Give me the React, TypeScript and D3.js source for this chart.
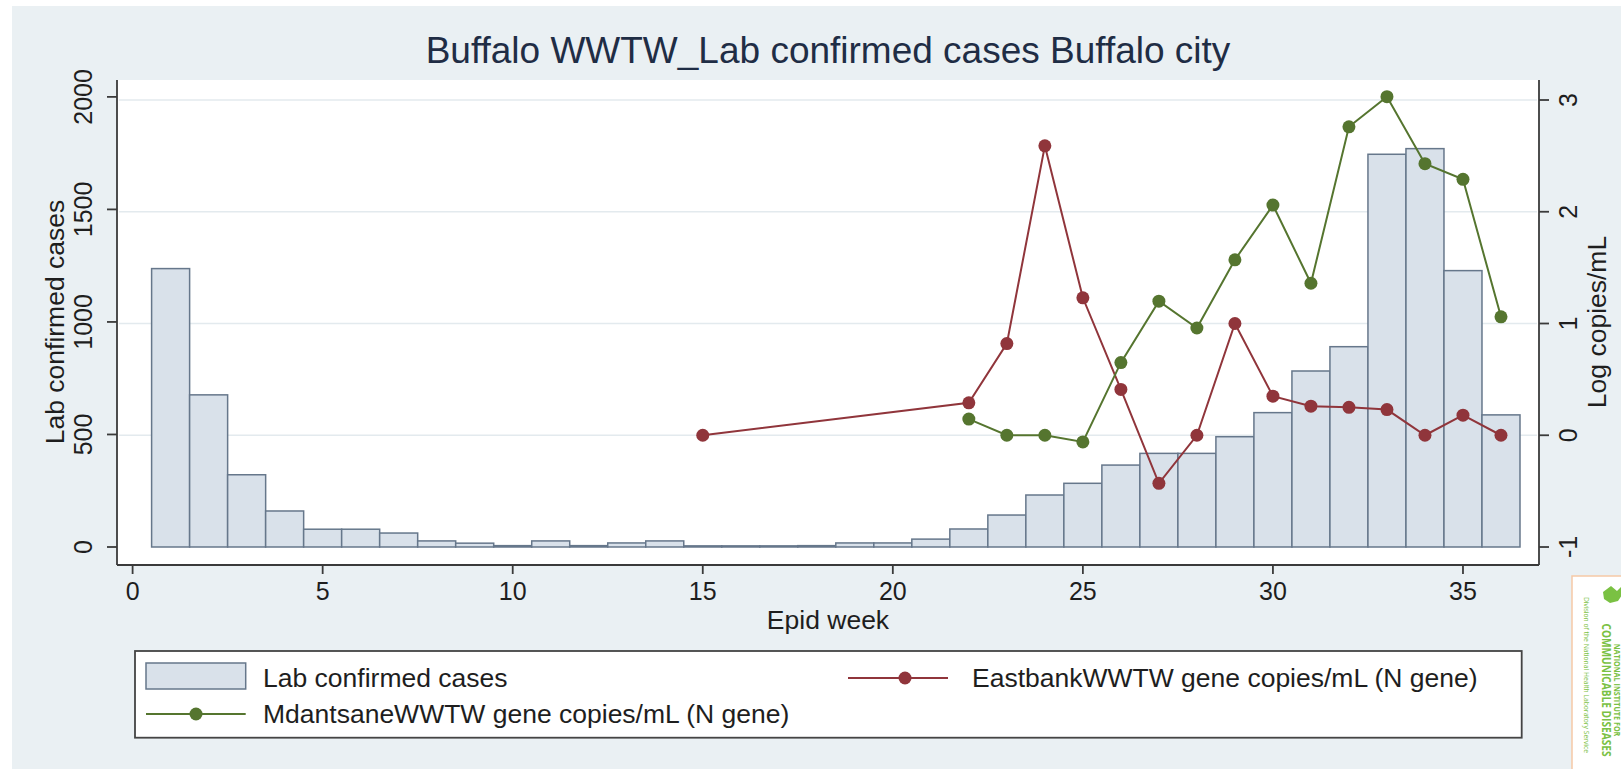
import React, { useEffect } from "react";
import * as d3 from "d3";

const weeks: number[] = [1,2,3,4,5,6,7,8,9,10,11,12,13,14,15,16,17,18,19,20,21,22,23,24,25,26,27,28,29,30,31,32,33,34,35,36];
const labCases: number[] = [1237,676,321,160,79,79,62,27,17,6,27,6,18,27,5,5,5,6,18,18,35,80,142,231,283,364,416,416,490,597,782,890,1745,1770,1228,587];

const eastbankWeeks: number[] = [15,22,23,24,25,26,27,28,29,30,31,32,33,34,35,36];
const eastbankValues: number[] = [0,0.29,0.82,2.59,1.23,0.41,-0.43,0.0,1.0,0.35,0.26,0.25,0.23,0.0,0.18,0.0];

const mdantsaneWeeks: number[] = [22,23,24,25,26,27,28,29,30,31,32,33,34,35,36];
const mdantsaneValues: number[] = [0.145,0,0,-0.06,0.65,1.2,0.96,1.57,2.06,1.36,2.76,3.03,2.43,2.29,1.06];

const xTicks: number[] = [0,5,10,15,20,25,30,35];
const leftTicks: number[] = [0,500,1000,1500,2000];
const rightTicks: number[] = [-1,0,1,2,3];

const FONT = "'Liberation Sans', Arial, Helvetica, sans-serif";
const BAR_FILL = "#d9e1ea";
const BAR_STROKE = "#66778b";
const RED = "#90353b";
const GREEN = "#55752f";
const AXIS = "#3a3a3a";
const GRID = "#e3eaee";
const TXT = "#1e1e1e";

export default function App() {
  useEffect(() => {
    document.body.style.margin = "0";
  }, []);

  const L = 117, R = 1539, T = 80, B = 565;
  const x = d3.scaleLinear().domain([-0.4105, 37.0]).range([L, R]);
  const yL = d3.scaleLinear().domain([-80, 2075]).range([B, T]);
  const yR = d3.scaleLinear().domain([-1.161, 3.179]).range([B, T]);

  const redLine = d3.line<number>().x((_, i) => x(eastbankWeeks[i])).y((v) => yR(v));
  const greenLine = d3.line<number>().x((_, i) => x(mdantsaneWeeks[i])).y((v) => yR(v));

  return (
    <svg width={1621} height={769} style={{ position: "absolute", left: 0, top: 0, display: "block" }} fontFamily={FONT}>
      <rect x={0} y={0} width={1621} height={769} fill="#ffffff" />
      <rect x={12} y={6} width={1609} height={763} fill="#eaf0f3" />
      {/* title */}
      <text x={828} y={63} textAnchor="middle" fontSize={37} fill="#1f2d45">Buffalo WWTW_Lab confirmed cases Buffalo city</text>
      {/* plot region */}
      <rect x={L} y={T} width={R - L} height={B - T} fill="#ffffff" />
      {/* grid */}
      {rightTicks.filter((t) => t >= 0).map((t) => (
        <line key={"g" + t} x1={L + 2} x2={R - 2} y1={yR(t)} y2={yR(t)} stroke={GRID} strokeWidth={1.5} />
      ))}
      {/* bars */}
      {weeks.map((w, i) => (
        <rect key={"b" + w} x={x(w - 0.5)} y={yL(labCases[i])} width={x(w + 0.5) - x(w - 0.5)} height={yL(0) - yL(labCases[i])} fill={BAR_FILL} stroke={BAR_STROKE} strokeWidth={1.5} />
      ))}
      {/* lines */}
      <path d={redLine(eastbankValues) || ""} fill="none" stroke={RED} strokeWidth={2} />
      <path d={greenLine(mdantsaneValues) || ""} fill="none" stroke={GREEN} strokeWidth={2} />
      {eastbankValues.map((v, i) => (
        <circle key={"r" + i} cx={x(eastbankWeeks[i])} cy={yR(v)} r={6.5} fill={RED} />
      ))}
      {mdantsaneValues.map((v, i) => (
        <circle key={"gm" + i} cx={x(mdantsaneWeeks[i])} cy={yR(v)} r={6.5} fill={GREEN} />
      ))}
      {/* axes */}
      <line x1={L} x2={L} y1={T} y2={B} stroke={AXIS} strokeWidth={1.8} />
      <line x1={R} x2={R} y1={T} y2={B} stroke={AXIS} strokeWidth={1.8} />
      <line x1={L} x2={R} y1={B} y2={B} stroke={AXIS} strokeWidth={1.8} />
      {leftTicks.map((t) => (
        <g key={"lt" + t}>
          <line x1={L - 10} x2={L} y1={yL(t)} y2={yL(t)} stroke={AXIS} strokeWidth={1.8} />
          <text transform={`translate(${83},${yL(t)}) rotate(-90)`} textAnchor="middle" dominantBaseline="central" fontSize={25} fill={TXT}>{t}</text>
        </g>
      ))}
      {rightTicks.map((t) => (
        <g key={"rt" + t}>
          <line x1={R} x2={R + 10} y1={yR(t)} y2={yR(t)} stroke={AXIS} strokeWidth={1.8} />
          <text transform={`translate(${1568},${yR(t)}) rotate(-90)`} textAnchor="middle" dominantBaseline="central" fontSize={25} fill={TXT}>{t}</text>
        </g>
      ))}
      {xTicks.map((t) => (
        <g key={"xt" + t}>
          <line x1={x(t)} x2={x(t)} y1={B} y2={B + 9} stroke={AXIS} strokeWidth={1.8} />
          <text x={x(t)} y={600} textAnchor="middle" fontSize={25} fill={TXT}>{t}</text>
        </g>
      ))}
      {/* axis titles */}
      <text x={828} y={629} textAnchor="middle" fontSize={26.5} fill={TXT}>Epid week</text>
      <text transform={`translate(${55},${322}) rotate(-90)`} textAnchor="middle" dominantBaseline="central" fontSize={26.5} fill={TXT}>Lab confirmed cases</text>
      <text transform={`translate(${1597},${322}) rotate(-90)`} textAnchor="middle" dominantBaseline="central" fontSize={26.5} fill={TXT}>Log copies/mL</text>
      {/* legend */}
      <rect x={135} y={651} width={1386.7} height={86.7} fill="#ffffff" stroke="#444" strokeWidth={1.8} />
      <rect x={146} y={663} width={99.7} height={26} fill={BAR_FILL} stroke={BAR_STROKE} strokeWidth={1.5} />
      <text x={263} y={678} dominantBaseline="central" fontSize={26.5} fill={TXT}>Lab confirmed cases</text>
      <line x1={146} x2={245.7} y1={714} y2={714} stroke={GREEN} strokeWidth={2} />
      <circle cx={196} cy={714} r={6.5} fill={GREEN} />
      <text x={263} y={714} dominantBaseline="central" fontSize={26.5} fill={TXT}>MdantsaneWWTW gene copies/mL (N gene)</text>
      <line x1={848} x2={948} y1={678} y2={678} stroke={RED} strokeWidth={2} />
      <circle cx={905} cy={678} r={6.5} fill={RED} />
      <text x={972} y={678} dominantBaseline="central" fontSize={26.5} fill={TXT}>EastbankWWTW gene copies/mL (N gene)</text>
      {/* logo */}
      <rect x={1572} y={576} width={60} height={200} fill="#ffffff" stroke="#f6c9a6" strokeWidth={1.5} />
      <path d="M1603,592 l8,-6 l6,5 l4,-4 l1,8 l-4,6 l-8,2 l-6,-4 z" fill="#7ac143" />
      <text transform={`translate(${1587},${675}) rotate(90) scale(0.9,1)`} textAnchor="middle" fontSize={7.5} fill="#7ac143" dominantBaseline="central" fontFamily="'Open Sans', sans-serif">Division of the National Health Laboratory Service</text>
      <text transform={`translate(${1607},${690}) rotate(90) scale(0.78,1)`} textAnchor="middle" fontSize={13} fontWeight="bold" fill="#7ac143" dominantBaseline="central" fontFamily="'Open Sans', sans-serif">COMMUNICABLE DISEASES</text>
      <text transform={`translate(${1617},${690}) rotate(90) scale(0.9,1)`} textAnchor="middle" fontSize={8} fontWeight="bold" fill="#7ac143" dominantBaseline="central" fontFamily="'Open Sans', sans-serif">NATIONAL INSTITUTE FOR</text>
    </svg>
  );
}
